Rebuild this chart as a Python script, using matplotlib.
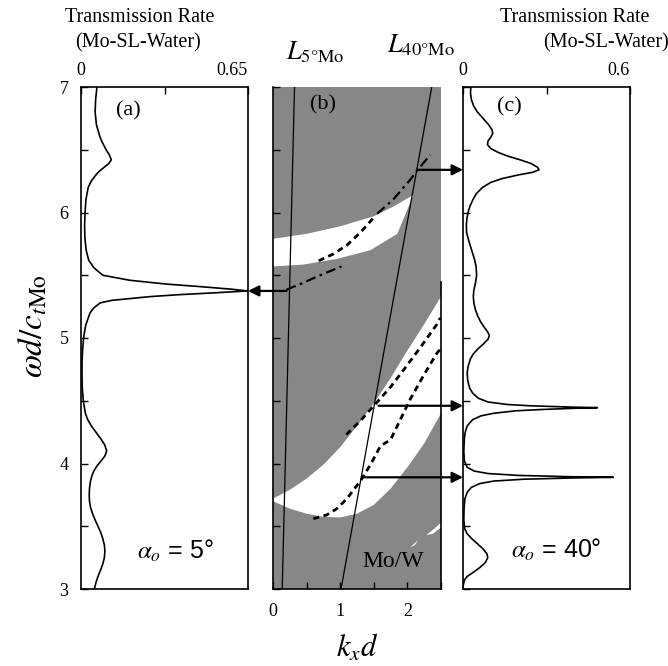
import matplotlib
matplotlib.use('Agg')
import matplotlib.pyplot as plt
import numpy as np
from matplotlib.ticker import MultipleLocator, FixedLocator

plt.rcParams['font.family'] = ['Liberation Serif', 'DejaVu Serif']
plt.rcParams['mathtext.fontset'] = 'stix'

# ---------------- data ----------------
# panel (a): transmission, alpha = 5 deg
omega_a = [7.00, 6.90, 6.80, 6.70, 6.60, 6.55, 6.50, 6.46, 6.42, 6.39, 6.36, 6.33, 6.30, 6.25,
           6.20, 6.10, 6.00, 5.90, 5.80, 5.70, 5.62, 5.56, 5.50, 5.46, 5.43, 5.41, 5.39, 5.375,
           5.36, 5.345, 5.33, 5.30, 5.28, 5.24, 5.20, 5.10, 5.00, 4.90, 4.80, 4.70, 4.60, 4.50,
           4.40, 4.35, 4.30, 4.25, 4.20, 4.15, 4.10, 4.06, 4.02, 3.98, 3.94, 3.90, 3.85, 3.80,
           3.75, 3.70, 3.65, 3.60, 3.55, 3.50, 3.45, 3.40, 3.35, 3.30, 3.25, 3.20, 3.15, 3.10,
           3.05, 3.00]
trans_a = [0.062, 0.057, 0.055, 0.060, 0.074, 0.085, 0.098, 0.110, 0.118, 0.108, 0.090, 0.072, 0.058, 0.040,
           0.028, 0.019, 0.016, 0.014, 0.015, 0.020, 0.030, 0.050, 0.085, 0.19, 0.33, 0.46, 0.58, 0.65,
           0.52, 0.38, 0.27, 0.12, 0.075, 0.050, 0.035, 0.018, 0.010, 0.006, 0.004, 0.004, 0.005, 0.009,
           0.017, 0.026, 0.040, 0.058, 0.076, 0.092, 0.100, 0.093, 0.078, 0.062, 0.050, 0.042, 0.036, 0.033,
           0.032, 0.033, 0.037, 0.045, 0.055, 0.066, 0.077, 0.085, 0.091, 0.093, 0.091, 0.085, 0.076, 0.066,
           0.058, 0.052]

# panel (c): transmission, alpha = 40 deg
omega_c = [7.00, 6.95, 6.90, 6.85, 6.80, 6.75, 6.70, 6.66, 6.63, 6.60, 6.57, 6.54, 6.51, 6.48,
           6.45, 6.42, 6.39, 6.36, 6.34, 6.32, 6.30, 6.27, 6.24, 6.20, 6.15, 6.10, 6.05, 6.00,
           5.95, 5.90, 5.84, 5.78, 5.70, 5.63, 5.57, 5.50, 5.44, 5.38, 5.33, 5.28, 5.23, 5.18,
           5.13, 5.09, 5.05, 5.02, 4.99, 4.95, 4.91, 4.87, 4.83, 4.77, 4.72, 4.66, 4.60, 4.56,
           4.52, 4.49, 4.47, 4.46, 4.45, 4.445, 4.44, 4.43, 4.42, 4.40, 4.38, 4.35, 4.30, 4.25,
           4.20, 4.10, 4.02, 3.97, 3.94, 3.92, 3.905, 3.895, 3.89, 3.885, 3.875, 3.86, 3.84, 3.81,
           3.77, 3.72, 3.65, 3.55, 3.48, 3.44, 3.40, 3.36, 3.32, 3.28, 3.25, 3.21, 3.17, 3.13,
           3.10, 3.07, 3.03, 3.00]
trans_c = [0.028, 0.027, 0.030, 0.038, 0.052, 0.072, 0.092, 0.104, 0.107, 0.100, 0.090, 0.088, 0.100, 0.125,
           0.160, 0.205, 0.245, 0.268, 0.273, 0.250, 0.200, 0.140, 0.100, 0.070, 0.048, 0.035, 0.025, 0.018,
           0.014, 0.012, 0.013, 0.020, 0.031, 0.041, 0.047, 0.049, 0.045, 0.039, 0.037, 0.039, 0.044, 0.052,
           0.063, 0.075, 0.088, 0.095, 0.090, 0.072, 0.052, 0.036, 0.026, 0.018, 0.015, 0.017, 0.024, 0.035,
           0.055, 0.090, 0.160, 0.240, 0.380, 0.483, 0.400, 0.280, 0.190, 0.110, 0.065, 0.035, 0.015, 0.008,
           0.005, 0.003, 0.005, 0.015, 0.040, 0.090, 0.200, 0.380, 0.540, 0.400, 0.220, 0.110, 0.060, 0.030,
           0.015, 0.007, 0.004, 0.003, 0.006, 0.015, 0.032, 0.052, 0.072, 0.086, 0.089, 0.080, 0.060, 0.035,
           0.015, 0.005, 0.001, 0.000]

# panel (b): pass bands (white) in the kx-omega plane
band1_up_k = [0.0, 0.5, 1.0, 1.5, 1.8, 2.09]
band1_up_w = [5.79, 5.83, 5.89, 5.97, 6.05, 6.14]
band1_lo_k = [0.0, 0.45, 0.95, 1.45, 1.85]
band1_lo_w = [5.57, 5.585, 5.63, 5.70, 5.83]

band2_up_k = [0.0, 0.25, 0.5, 0.75, 1.0, 1.25, 1.5, 1.75, 2.0, 2.25, 2.5]
band2_up_w = [3.72, 3.79, 3.88, 3.99, 4.13, 4.30, 4.48, 4.68, 4.90, 5.11, 5.33]
band2_lo_k = [0.0, 0.25, 0.5, 0.75, 1.0, 1.25, 1.5, 1.75, 2.0, 2.25, 2.5]
band2_lo_w = [3.70, 3.64, 3.60, 3.575, 3.57, 3.60, 3.67, 3.80, 3.97, 4.16, 4.40]

sliver1_k = [2.04, 2.10, 2.16, 2.11]
sliver1_w = [3.33, 3.36, 3.39, 3.35]
sliver2_k = [2.28, 2.40, 2.50, 2.50, 2.38]
sliver2_w = [3.43, 3.48, 3.53, 3.49, 3.44]

# dispersion curves of guided modes
dash1_k = [0.68, 0.90, 1.10, 1.30, 1.50]
dash1_w = [5.615, 5.67, 5.74, 5.84, 5.96]
dashdot1_k = [1.55, 1.80, 2.04, 2.14, 2.34]
dashdot1_w = [5.99, 6.11, 6.26, 6.33, 6.46]
dashdot2_k = [0.20, 0.45, 0.70, 1.02]
dashdot2_w = [5.385, 5.44, 5.50, 5.57]
dashA_k = [1.09, 1.30, 1.50, 1.75, 1.95, 2.20, 2.44, 2.49]
dashA_w = [4.23, 4.34, 4.46, 4.61, 4.75, 4.93, 5.11, 5.16]
dashB_k = [0.60, 0.80, 0.95, 1.10, 1.30, 1.45, 1.60, 1.75, 2.04, 2.25, 2.44, 2.49]
dashB_w = [3.56, 3.59, 3.64, 3.72, 3.86, 3.99, 4.14, 4.19, 4.51, 4.71, 4.88, 4.91]

# incidence lines  kx d = f * omega d / c * sin(alpha)
line_factor = 0.525
angles_deg = [5, 40]
omega_line = [3.0, 7.0]

# arrows: (omega, start kx)
arrow_left = (5.375, 0.20)
arrows_right = [(6.34, 2.14), (4.46, 1.57), (3.89, 1.35)]

a_xticks = [0, 0.325, 0.65]
a_xlabels = ['0', '', '0.65']
c_xticks = [0, 0.3, 0.6]
c_xlabels = ['0', '', '0.6']
b_xticks = [0, 0.5, 1.0, 1.5, 2.0, 2.5]
b_xlabels = ['0', '', '1', '', '2', '']
w_ticks = [3, 4, 5, 6, 7]

# ---------------- figure ----------------
W, H = 668, 666
fig = plt.figure(figsize=(W / 100, H / 100), dpi=100)
top_px, bot_px = 87, 589
bottom = 1 - bot_px / H
height = (bot_px - top_px) / H
ax_a = fig.add_axes([81 / W, bottom, 167 / W, height])
ax_b = fig.add_axes([273 / W, bottom, 168 / W, height])
ax_c = fig.add_axes([463 / W, bottom, 167 / W, height])

gray = '#878787'
tick_fs = 13

for ax, xt, xl, xmax, tr, om in [(ax_a, a_xticks, a_xlabels, 0.65, trans_a, omega_a),
                                  (ax_c, c_xticks, c_xlabels, 0.6, trans_c, omega_c)]:
    ax.plot(tr, om, color='k', lw=1.2)
    ax.set_xlim(0, xmax)
    ax.set_ylim(3, 7)
    ax.xaxis.tick_top()
    ax.set_xticks(xt)
    ax.set_xticklabels(xl, fontsize=tick_fs)
    ax.get_xticklabels()[-1].set_ha('right')
    ax.tick_params(axis='x', direction='in', length=5, pad=6, width=1)
    ax.yaxis.set_major_locator(FixedLocator(w_ticks))
    ax.yaxis.set_minor_locator(MultipleLocator(0.5))
    ax.tick_params(axis='y', which='both', direction='in', length=5, width=1, right=False)
    for s in ax.spines.values():
        s.set_linewidth(1.2)

ax_a.set_yticklabels([str(t) for t in w_ticks], fontsize=tick_fs)
ax_a.tick_params(axis='y', pad=9)
ax_c.set_yticklabels([])

# panel b
ax_b.set_xlim(0, 2.5)
ax_b.set_ylim(3, 7)
ax_b.set_facecolor(gray)
ax_b.fill(band1_up_k + band1_lo_k[::-1], band1_up_w + band1_lo_w[::-1], color='white', lw=0)
ax_b.fill(band2_up_k + band2_lo_k[::-1], band2_up_w + band2_lo_w[::-1], color='white', lw=0)
ax_b.fill(sliver1_k, sliver1_w, color='white', lw=0)
ax_b.fill(sliver2_k, sliver2_w, color='white', lw=0)
for a in angles_deg:
    s = line_factor * np.sin(np.radians(a))
    ax_b.plot([s * w for w in omega_line], omega_line, color='k', lw=0.9)
for k, w in [(dash1_k, dash1_w), (dashA_k, dashA_w), (dashB_k, dashB_w)]:
    ax_b.plot(k, w, color='k', lw=2.0, linestyle=(0, (2.2, 1.6)))
for k, w in [(dashdot1_k, dashdot1_w), (dashdot2_k, dashdot2_w)]:
    ax_b.plot(k, w, color='k', lw=1.6, linestyle=(0, (4.5, 2.0, 1.2, 2.0)))
ax_b.spines['top'].set_visible(False)
ax_b.spines['right'].set_visible(False)
ax_b.spines['left'].set_linewidth(1.2)
ax_b.spines['bottom'].set_linewidth(1.2)
ax_b.plot([2.5, 2.5], [3.0, 5.45], color='k', lw=1.2, clip_on=False)
ax_b.set_xticks(b_xticks)
ax_b.set_xticklabels(b_xlabels, fontsize=tick_fs)
ax_b.tick_params(axis='x', direction='in', length=5, pad=10, width=1)
ax_b.yaxis.set_major_locator(MultipleLocator(0.5))
ax_b.set_yticklabels([])
ax_b.tick_params(axis='y', direction='in', length=5, width=1)

# arrows
ap = dict(arrowstyle='-|>', color='k', lw=1.6, mutation_scale=16, shrinkA=0, shrinkB=0)
ax_b.annotate('', xy=(0.65, arrow_left[0]), xycoords=ax_a.transData,
              xytext=(arrow_left[1], arrow_left[0]), textcoords='data',
              arrowprops=ap, annotation_clip=False)
for w, k in arrows_right:
    ax_b.annotate('', xy=(0, w), xycoords=ax_c.transData,
                  xytext=(k, w), textcoords='data', arrowprops=ap, annotation_clip=False)

# texts
ax_a.text(0.284, 0.952, '(a)', transform=ax_a.transAxes, fontsize=16, ha='center', va='center')
ax_b.text(0.30, 0.964, '(b)', transform=ax_b.transAxes, fontsize=16, ha='center', va='center')
ax_c.text(0.28, 0.961, '(c)', transform=ax_c.transAxes, fontsize=16, ha='center', va='center')
ax_b.text(0.716, 0.054, 'Mo/W', transform=ax_b.transAxes, fontsize=17, ha='center', va='center')
ax_a.text(0.563, 0.075, r'$\alpha_o$ = 5°', transform=ax_a.transAxes, fontsize=18,
          ha='center', va='center', family=['Liberation Sans', 'DejaVu Sans'])
ax_c.text(0.56, 0.078, r'$\alpha_o$ = 40°', transform=ax_c.transAxes, fontsize=18,
          ha='center', va='center', family=['Liberation Sans', 'DejaVu Sans'])

fig.text(140 / W, 1 - 18 / H, 'Transmission Rate', fontsize=14.5, ha='center', va='center')
fig.text(138 / W, 1 - 43 / H, '(Mo-SL-Water)', fontsize=14.5, ha='center', va='center')
fig.text(575 / W, 1 - 18 / H, 'Transmission Rate', fontsize=14.5, ha='center', va='center')
fig.text(606 / W, 1 - 43 / H, '(Mo-SL-Water)', fontsize=14.5, ha='center', va='center')
fig.text(315 / W, 1 - 52 / H, r'$L_{5\degree\mathrm{Mo}}$', fontsize=19, ha='center', va='center')
fig.text(421 / W, 1 - 45 / H, r'$L_{40\degree\mathrm{Mo}}$', fontsize=19, ha='center', va='center')
fig.text(33 / W, 1 - 326 / H, r'$\omega d/c_{t\mathrm{Mo}}$', fontsize=24, rotation=90,
         ha='center', va='center')
fig.text(357 / W, 1 - 648 / H, r'$k_x d$', fontsize=22, ha='center', va='center')

fig.savefig('out.png', dpi=100)
